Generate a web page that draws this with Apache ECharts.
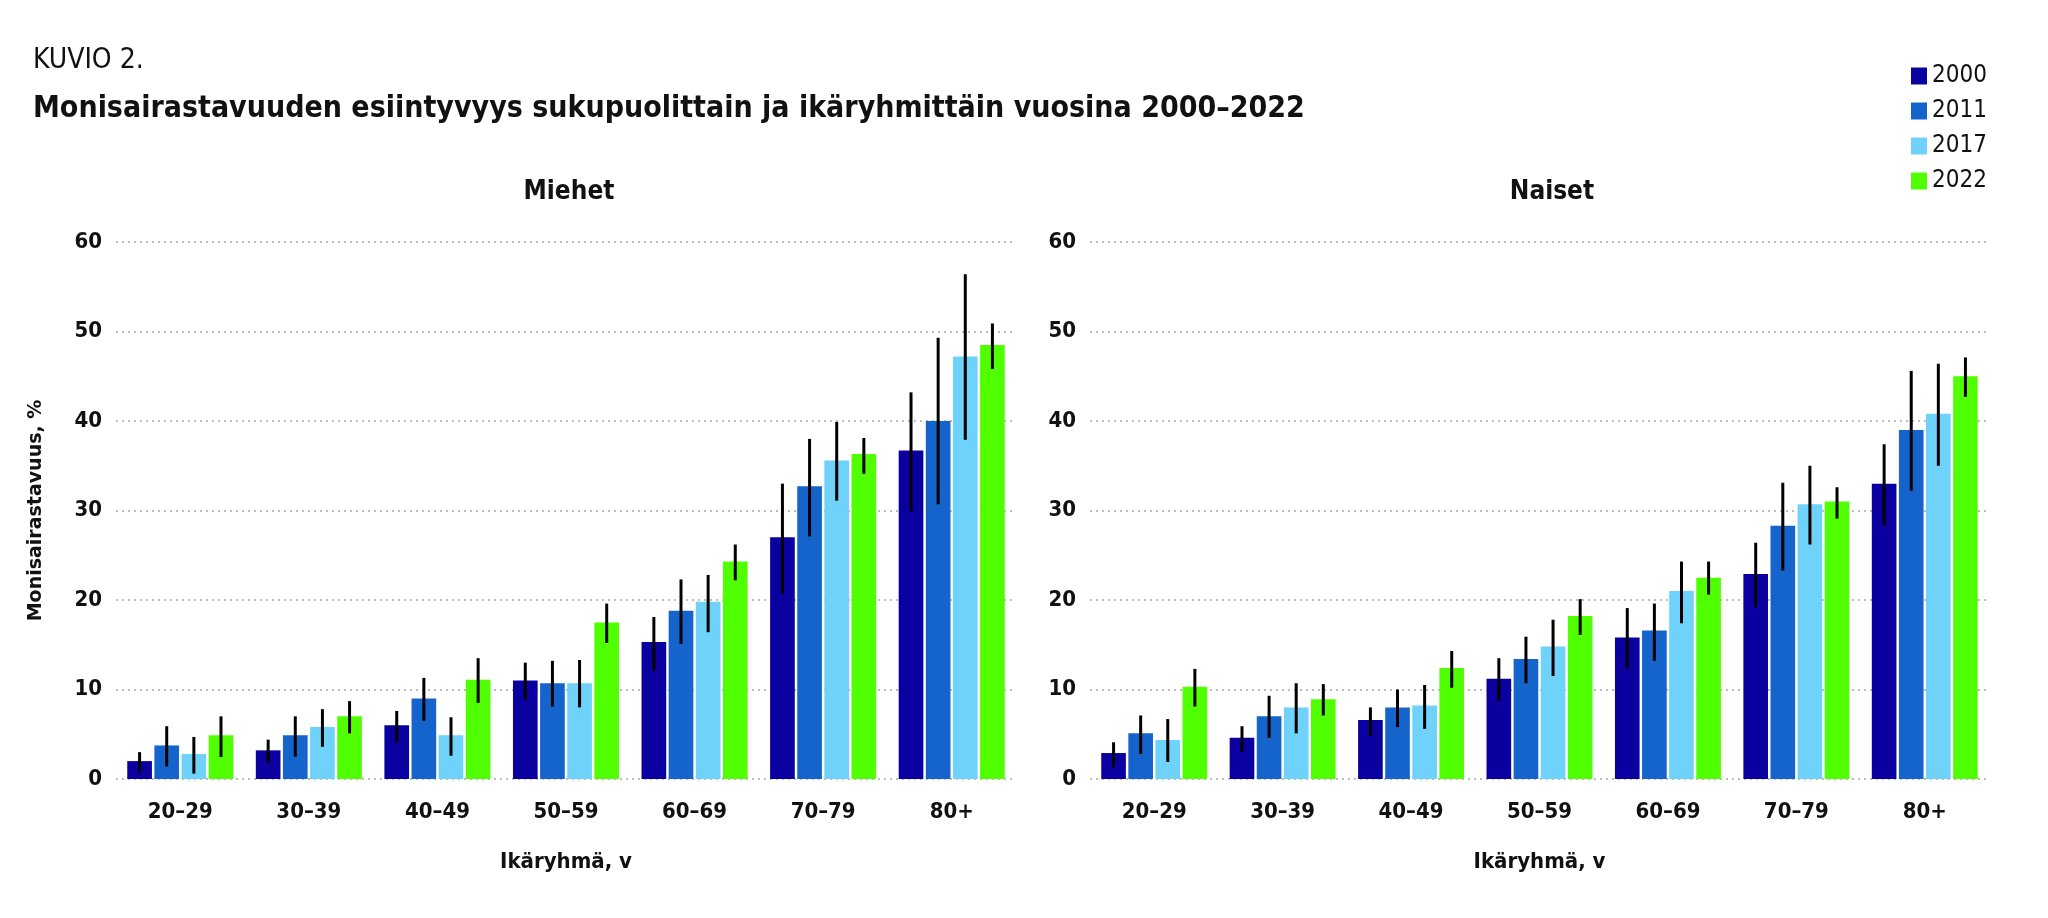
<!DOCTYPE html>
<html>
<head>
<meta charset="utf-8">
<script src="https://cdn.jsdelivr.net/npm/echarts@6/dist/echarts.min.js"></script>
<style>
html,body{margin:0;padding:0;background:#fff;}
#c{width:2048px;height:918px;}
</style>
</head>
<body>
<div id="c"></div>
<script>
const categories = ['20–29','30–39','40–49','50–59','60–69','70–79','80+'];
const years = ['2000','2011','2017','2022'];
const yTicks = [0,10,20,30,40,50,60];

const men2000 = [2.0, 3.2, 6.0, 11.0, 15.3, 27.0, 36.7];
const men2011 = [3.75, 4.9, 9.0, 10.7, 18.8, 32.7, 40.0];
const men2017 = [2.8, 5.8, 4.9, 10.7, 19.8, 35.6, 47.2];
const men2022 = [4.9, 7.0, 11.1, 17.5, 24.3, 36.3, 48.5];

const menErr2000 = [[0.7,3.0],[1.8,4.4],[4.1,7.6],[8.8,13.0],[12.1,18.1],[20.7,33.0],[29.9,43.2]];
const menErr2011 = [[1.4,5.9],[2.5,7.0],[6.5,11.3],[8.1,13.2],[15.1,22.3],[27.1,38.0],[30.7,49.3]];
const menErr2017 = [[0.6,4.7],[3.6,7.8],[2.6,6.9],[8.0,13.3],[16.4,22.8],[31.1,39.9],[37.9,56.4]];
const menErr2022 = [[2.45,7.0],[5.1,8.7],[8.5,13.5],[15.2,19.6],[22.2,26.2],[34.1,38.1],[45.8,50.9]];

const women2000 = [2.9, 4.6, 6.6, 11.2, 15.8, 22.9, 33.0];
const women2011 = [5.1, 7.0, 8.0, 13.4, 16.6, 28.3, 39.0];
const women2017 = [4.35, 8.0, 8.2, 14.8, 21.0, 30.7, 40.8];
const women2022 = [10.3, 8.9, 12.4, 18.2, 22.5, 31.0, 45.0];

const womenErr2000 = [[1.3,4.1],[3.0,5.9],[4.8,8.0],[8.7,13.5],[12.3,19.1],[19.2,26.4],[28.3,37.4]];
const womenErr2011 = [[2.8,7.1],[4.6,9.3],[5.8,10.0],[10.7,15.9],[13.2,19.6],[23.3,33.1],[32.2,45.6]];
const womenErr2017 = [[1.9,6.7],[5.1,10.7],[5.6,10.5],[11.5,17.8],[17.4,24.3],[26.2,35.0],[35.0,46.4]];
const womenErr2022 = [[8.1,12.3],[7.1,10.6],[10.2,14.3],[16.1,20.1],[20.6,24.3],[29.1,32.6],[42.7,47.1]];

const colors = ['#0A00A0','#1464CC','#6ED2FA','#50FF00'];
const FONT = '"Liberation Sans Narrow","DejaVu Sans Condensed","Roboto Condensed","Roboto",sans-serif';

const CAT_GAP = 0.175, BAR_GAP = 0.1, N = 4;

function errSeries(name, errs, idx, gridIdx) {
  return {
    type: 'custom',
    name: name,
    xAxisIndex: gridIdx, yAxisIndex: gridIdx,
    z: 5,
    silent: true,
    data: errs.map((e, i) => [i, e[0], e[1]]),
    encode: { x: 0, y: [1, 2] },
    renderItem: function (params, api) {
      const cat = api.value(0);
      const p0 = api.coord([cat, api.value(1)]);
      const p1 = api.coord([cat, api.value(2)]);
      const band = api.size([1, 0])[0];
      const groupW = band * (1 - CAT_GAP);
      const w = groupW / (N + (N - 1) * BAR_GAP);
      const x = p0[0] - groupW / 2 + w / 2 + idx * w * (1 + BAR_GAP);
      return {
        type: 'line',
        shape: { x1: x, y1: p0[1], x2: x, y2: p1[1] },
        style: { stroke: '#000', lineWidth: 3 }
      };
    }
  };
}

function barSeries(name, vals, idx, gridIdx) {
  return {
    type: 'bar', name: name,
    xAxisIndex: gridIdx, yAxisIndex: gridIdx,
    data: vals,
    barGap: (BAR_GAP * 100) + '%',
    barCategoryGap: (CAT_GAP * 100) + '%',
    itemStyle: { color: colors[idx] },
    emphasis: { disabled: true }
  };
}

function xAx(gridIdx) {
  return {
    type: 'category', gridIndex: gridIdx, data: categories,
    axisLine: { show: false }, axisTick: { show: false },
    axisLabel: { color: '#111', fontFamily: FONT, fontSize: 22, fontWeight: 'bold', margin: 22 },
    name: 'Ikäryhmä, v', nameLocation: 'middle', nameGap: 72,
    nameTextStyle: { color: '#111', fontFamily: FONT, fontSize: 22, fontWeight: 'bold' }
  };
}
function yAx(gridIdx, withName) {
  const o = {
    type: 'value', gridIndex: gridIdx, min: 0, max: 60, interval: 10,
    axisLine: { show: false }, axisTick: { show: false },
    axisLabel: { color: '#111', fontFamily: FONT, fontSize: 22, fontWeight: 'bold', margin: 14,
      formatter: v => yTicks.indexOf(v) >= 0 ? String(v) : '' },
    splitLine: { show: true, lineStyle: { color: '#a8a8a8', type: [2, 4], width: 1.5 } }
  };
  if (withName) {
    o.name = 'Monisairastavuus, %';
    o.nameLocation = 'middle';
    o.nameGap = 70;
    o.nameTextStyle = { color: '#111', fontFamily: '"DejaVu Sans",sans-serif', fontSize: 19, fontWeight: 'bold' };
  }
  return o;
}

const series = [];
const menVals = [men2000, men2011, men2017, men2022];
const menErrs = [menErr2000, menErr2011, menErr2017, menErr2022];
const womenVals = [women2000, women2011, women2017, women2022];
const womenErrs = [womenErr2000, womenErr2011, womenErr2017, womenErr2022];
years.forEach((y, i) => series.push(barSeries(y, menVals[i], i, 0)));
years.forEach((y, i) => series.push(barSeries(y, womenVals[i], i, 1)));
years.forEach((y, i) => series.push(errSeries('m_err_' + y, menErrs[i], i, 0)));
years.forEach((y, i) => series.push(errSeries('w_err_' + y, womenErrs[i], i, 1)));

const chart = echarts.init(document.getElementById('c'), null, { renderer: 'canvas' });
chart.setOption({
  backgroundColor: '#fff',
  animation: false,
  title: [
    { text: 'KUVIO 2.', left: 28, top: 42,
      textStyle: { fontFamily: FONT, fontSize: 28, fontWeight: 'normal', color: '#111' } },
    { text: 'Monisairastavuuden esiintyvyys sukupuolittain ja ikäryhmittäin vuosina 2000–2022', left: 28, top: 89,
      textStyle: { fontFamily: FONT, fontSize: 30, fontWeight: 'bold', color: '#111' } },
    { text: 'Miehet', left: 564, top: 174, textAlign: 'center',
      textStyle: { fontFamily: FONT, fontSize: 26, fontWeight: 'bold', color: '#111' } },
    { text: 'Naiset', left: 1547, top: 174, textAlign: 'center',
      textStyle: { fontFamily: FONT, fontSize: 26, fontWeight: 'bold', color: '#111' } }
  ],
  legend: {
    data: years, orient: 'vertical', left: 1906, top: 59,
    itemWidth: 16, itemHeight: 17, itemGap: 11,
    icon: 'rect',
    textStyle: { fontFamily: FONT, fontSize: 24, color: '#111', padding: [0, 0, 0, 0] },
    selectedMode: false
  },
  grid: [
    { left: 116, right: 1032, top: 242, bottom: 139 },
    { left: 1090, right: 59, top: 242, bottom: 139 }
  ],
  xAxis: [xAx(0), xAx(1)],
  yAxis: [yAx(0, true), yAx(1, false)],
  series: series
});
</script>
</body>
</html>
